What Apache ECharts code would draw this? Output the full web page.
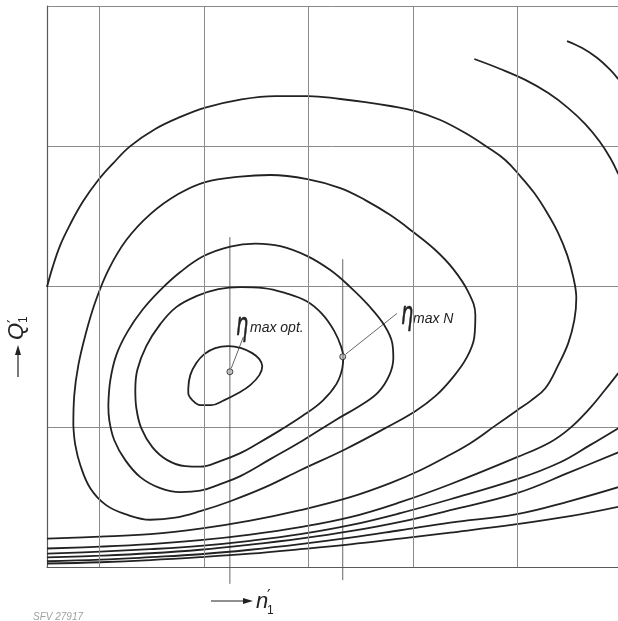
<!DOCTYPE html>
<html>
<head>
<meta charset="utf-8">
<title>Muschelkurven n'1 – Q'1</title>
<script src="https://cdn.jsdelivr.net/npm/echarts/dist/echarts.min.js"></script>
<style>
    html, body { margin: 0; padding: 0; background: #fff; }
    #chart { width: 618px; height: 621px; }
</style>
</head>
<body>
<div id="chart"></div>
<script>
// 网格：n'1 方向的竖线位置（网格单位）
const nGrid = [0.5, 1.5, 2.5, 3.5, 4.5];

// 等效率曲线（n'1, Q'1），由内向外
const curveA = [[1.352,1.275],[1.371,1.368],[1.429,1.454],[1.505,1.518],[1.610,1.561],[1.735,1.575],[1.859,1.561],[1.964,1.525],[2.032,1.482],[2.060,1.432],[2.032,1.368],[1.945,1.297],[1.831,1.240],[1.697,1.190],[1.572,1.154],[1.467,1.154],[1.390,1.190],[1.352,1.240],[1.352,1.275]];
const curveB = [[0.845,1.261],[0.864,1.404],[0.950,1.575],[1.084,1.732],[1.237,1.853],[1.429,1.931],[1.640,1.981],[1.850,1.996],[2.073,1.989],[2.283,1.953],[2.481,1.896],[2.634,1.803],[2.749,1.682],[2.816,1.568],[2.835,1.497],[2.826,1.418],[2.769,1.304],[2.634,1.183],[2.443,1.076],[2.233,0.976],[2.022,0.883],[1.850,0.812],[1.658,0.755],[1.467,0.715],[1.324,0.719],[1.151,0.762],[1.008,0.855],[0.902,0.990],[0.855,1.133],[0.845,1.261]];
const curveC = [[0.587,1.154],[0.606,1.332],[0.663,1.511],[0.768,1.675],[0.912,1.832],[1.084,1.974],[1.276,2.103],[1.499,2.217],[1.754,2.285],[1.993,2.306],[2.233,2.288],[2.491,2.217],[2.711,2.117],[2.902,1.996],[3.075,1.867],[3.227,1.725],[3.304,1.596],[3.314,1.489],[3.276,1.368],[3.171,1.247],[3.018,1.161],[2.759,1.047],[2.452,0.904],[2.137,0.769],[1.850,0.648],[1.658,0.591],[1.467,0.544],[1.276,0.534],[1.084,0.562],[0.893,0.641],[0.749,0.762],[0.644,0.904],[0.596,1.047],[0.587,1.154]];
const curveD = [[0.252,1.011],[0.261,1.225],[0.300,1.439],[0.367,1.653],[0.462,1.889],[0.587,2.117],[0.759,2.331],[0.989,2.516],[1.256,2.659],[1.515,2.745],[1.850,2.784],[2.137,2.795],[2.491,2.766],[2.807,2.702],[3.046,2.616],[3.285,2.509],[3.505,2.388],[3.716,2.260],[3.888,2.124],[4.032,1.960],[4.099,1.796],[4.089,1.639],[4.013,1.489],[3.878,1.347],[3.716,1.218],[3.524,1.111],[3.237,0.990],[2.855,0.840],[2.424,0.690],[2.089,0.569],[1.754,0.469],[1.467,0.398],[1.228,0.352],[0.989,0.337],[0.749,0.377],[0.566,0.441],[0.414,0.562],[0.319,0.726],[0.271,0.869],[0.252,1.011]];
const curveE = [[0,1.996],[0.051,2.131],[0.127,2.295],[0.223,2.445],[0.347,2.609],[0.491,2.759],[0.635,2.880],[0.797,3.001],[1.036,3.123],[1.276,3.209],[1.515,3.276],[1.850,3.333],[2.185,3.358],[2.501,3.358],[2.807,3.337],[3.046,3.315],[3.285,3.287],[3.524,3.251],[3.764,3.187],[4.003,3.094],[4.213,2.994],[4.385,2.902],[4.529,2.787],[4.663,2.666],[4.787,2.524],[4.892,2.381],[4.978,2.224],[5.036,2.067],[5.065,1.917],[5.046,1.760],[4.988,1.596],[4.892,1.439],[4.769,1.275],[4.625,1.183],[4.500,1.118],[4.290,1.008],[4.051,0.883],[3.813,0.783],[3.572,0.690],[3.285,0.598],[2.902,0.498],[2.424,0.405],[1.945,0.330],[1.467,0.273],[0.989,0.234],[0.510,0.216],[0,0.203]];

// 下方的扇形曲线束
const curveF = [[0,0.132],[0.510,0.145],[0.989,0.163],[1.467,0.191],[1.945,0.231],[2.424,0.284],[2.902,0.355],[3.381,0.462],[3.859,0.590],[4.498,0.783],[4.816,0.890],[5.005,0.990],[5.196,1.133],[5.339,1.262],[5.467,1.383]];
const curveG = [[0,0.096],[0.510,0.109],[0.989,0.127],[1.467,0.151],[1.945,0.187],[2.424,0.234],[2.902,0.298],[3.381,0.384],[3.859,0.483],[4.498,0.626],[4.912,0.747],[5.196,0.869],[5.467,0.990]];
const curveH = [[0,0.068],[0.510,0.081],[0.989,0.098],[1.467,0.123],[1.945,0.159],[2.424,0.202],[2.902,0.255],[3.381,0.322],[3.859,0.405],[4.498,0.526],[5.005,0.676],[5.467,0.818]];
const curveI = [[0,0.041],[0.510,0.052],[0.989,0.070],[1.467,0.091],[1.945,0.123],[2.424,0.163],[2.902,0.209],[3.381,0.262],[3.859,0.316],[4.498,0.377],[5.005,0.470],[5.467,0.569]];
const curveJ = [[0,0.025],[0.510,0.034],[0.989,0.049],[1.467,0.070],[1.945,0.095],[2.424,0.127],[2.902,0.162],[3.381,0.203],[3.859,0.245],[4.498,0.305],[5.005,0.362],[5.467,0.429]];

// 右上角的两段弧线
const arcK = [[4.089,3.622],[4.338,3.551],[4.577,3.473],[4.797,3.379],[4.988,3.272],[5.151,3.158],[5.285,3.037],[5.390,2.916],[5.467,2.802]];
const arcL = [[4.976,3.750],[5.122,3.700],[5.266,3.629],[5.381,3.551],[5.467,3.479]];

// 最高效率点及其竖线、引线
const optPoint = [1.750, 1.392];
const nPoint = [2.830, 1.499];
const optLine = [[1.750, 2.352], [1.750, -0.12]];
const nLine = [[2.830, 2.195], [2.830, -0.094]];
const optLeader = [[1.764, 1.418], [1.878, 1.639]];
const nLeader = [[2.859, 1.518], [3.349, 1.808]];

document.addEventListener('DOMContentLoaded', () => {
    const chart = echarts.init(document.getElementById('chart'));
    const ink = '#222';
    const gridColor = '#8a8a8a';

    function curve(data) {
        return {
            type: 'line',
            data: data,
            smooth: 0.4,
            symbol: 'none',
            silent: true,
            z: 3,
            lineStyle: { color: ink, width: 1.8 }
        };
    }

    function thin(data, clip) {
        return {
            type: 'line',
            data: data,
            symbol: 'none',
            silent: true,
            clip: clip,
            z: 2,
            lineStyle: { color: '#555', width: 0.9 }
        };
    }

    const textFont = '"Liberation Sans", "DejaVu Sans", sans-serif';
    const etaStyle = { text: 'η', font: 'italic 32px "DejaVu Sans"', fill: ink, stroke: ink, lineWidth: 0.6, verticalAlign: 'middle' };

    const option = {
        animation: false,
        backgroundColor: '#fff',
        grid: { left: 47, top: 6, right: 0, bottom: 54 },
        xAxis: {
            type: 'value',
            min: 0,
            max: 5.464,
            axisLine: { show: true, lineStyle: { color: '#5a5a5a', width: 1.2 } },
            axisTick: { show: false },
            axisLabel: { show: false },
            splitLine: { show: false }
        },
        yAxis: {
            type: 'value',
            min: 0,
            max: 4,
            interval: 1,
            axisLine: { show: true, lineStyle: { color: '#5a5a5a', width: 1.2 } },
            axisTick: { show: false },
            axisLabel: { show: false },
            splitLine: { show: true, lineStyle: { color: gridColor, width: 1 } }
        },
        series: [
            // 竖向网格线
            {
                type: 'line',
                data: [],
                z: 1,
                silent: true,
                markLine: {
                    silent: true,
                    symbol: ['none', 'none'],
                    label: { show: false },
                    lineStyle: { color: gridColor, width: 1, type: 'solid' },
                    data: nGrid.map(v => ({ xAxis: v }))
                }
            },
            curve(curveA), curve(curveB), curve(curveC), curve(curveD), curve(curveE),
            curve(curveF), curve(curveG), curve(curveH), curve(curveI), curve(curveJ),
            curve(arcK), curve(arcL),
            thin(optLine, false), thin(nLine, false),
            thin(optLeader, true), thin(nLeader, true),
            {
                type: 'scatter',
                data: [optPoint, nPoint],
                symbol: 'circle',
                symbolSize: 6,
                silent: true,
                z: 4,
                itemStyle: { color: '#b5b5b5', borderColor: ink, borderWidth: 1 }
            }
        ],
        graphic: [
            // η max opt.
            { type: 'text', x: 236, y: 327, scaleX: 0.6, style: etaStyle },
            { type: 'text', x: 250, y: 328, style: { text: 'max opt.', font: 'italic 14px ' + textFont, fill: ink, verticalAlign: 'middle' } },
            // η max N
            { type: 'text', x: 401, y: 316, scaleX: 0.6, style: etaStyle },
            { type: 'text', x: 413, y: 319, style: { text: 'max N', font: 'italic 14px ' + textFont, fill: ink, verticalAlign: 'middle' } },
            // → n'1
            { type: 'line', shape: { x1: 211, y1: 601, x2: 246, y2: 601 }, style: { stroke: ink, lineWidth: 1.2 } },
            { type: 'polygon', shape: { points: [[243, 598], [253, 601], [243, 604]] }, style: { fill: ink } },
            { type: 'text', x: 256, y: 602, style: { text: 'n', font: 'italic 22px ' + textFont, fill: ink, verticalAlign: 'middle' } },
            { type: 'text', x: 267, y: 597, style: { text: '′', font: '16px "DejaVu Sans"', fill: ink, verticalAlign: 'middle' } },
            { type: 'text', x: 267, y: 611, style: { text: '1', font: '12px ' + textFont, fill: ink, verticalAlign: 'middle' } },
            // → Q'1（竖排）
            {
                type: 'group',
                x: 18,
                y: 377,
                rotation: Math.PI / 2,
                children: [
                    { type: 'line', shape: { x1: 0, y1: 0, x2: 25, y2: 0 }, style: { stroke: ink, lineWidth: 1.2 } },
                    { type: 'polygon', shape: { points: [[22, -3], [32, 0], [22, 3]] }, style: { fill: ink } },
                    { type: 'text', x: 37, y: -1, style: { text: 'Q', font: 'italic 22px ' + textFont, fill: ink, verticalAlign: 'middle' } },
                    { type: 'text', x: 54, y: -3, style: { text: '′', font: '16px "DejaVu Sans"', fill: ink, verticalAlign: 'middle' } },
                    { type: 'text', x: 54, y: 6, style: { text: '1', font: '12px ' + textFont, fill: ink, verticalAlign: 'middle' } }
                ]
            },
            // 图号
            { type: 'text', x: 33, y: 617, style: { text: 'SFV 27917', font: 'italic 10px ' + textFont, fill: '#a0a0a0', verticalAlign: 'middle' } }
        ]
    };

    chart.setOption(option);
});
</script>
</body>
</html>
